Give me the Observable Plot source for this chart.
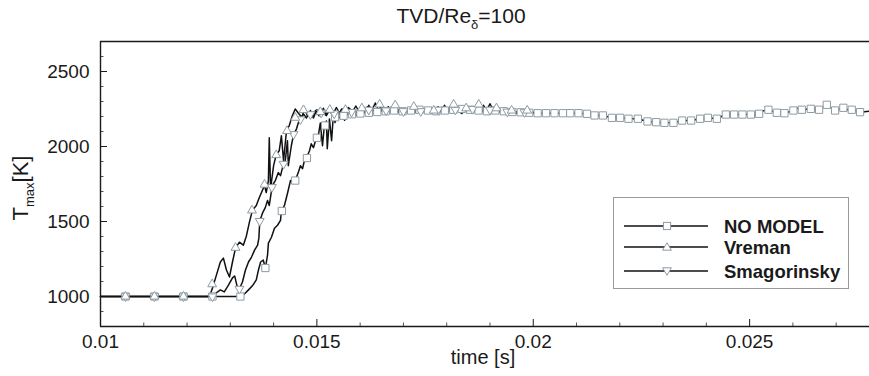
<!DOCTYPE html>
<html>
<head>
<meta charset="utf-8">
<script src="https://cdn.jsdelivr.net/npm/d3@7"></script>
<script src="https://cdn.jsdelivr.net/npm/@observablehq/plot@0.6"></script>
<style>
  html, body { margin: 0; padding: 0; background: #fff; }
  #wrap { position: relative; width: 869px; height: 376px; font-family: "Liberation Sans", Arial, sans-serif; color: #1a1a1a; }
  .ov { position: absolute; white-space: nowrap; }
</style>
</head>
<body>
<div id="wrap"></div>
<script>
// ---------- data ----------
const seriesNames = ["NO MODEL", "Vreman", "Smagorinsky"];
const xTicks = [0.01, 0.015, 0.02, 0.025];
const xTickLabels = ["0.01", "0.015", "0.02", "0.025"];
const yTicks = [1000, 1500, 2000, 2500];
const yTickLabels = ["1000", "1500", "2000", "2500"];

// NO MODEL line
const nmT = [0.0100,0.01323,0.01333,0.01342,0.01351,0.01360,0.01365,0.01370,0.01376,0.01381,0.01386,0.01388,0.01395,0.01402,0.01409,0.01416,0.01418,0.01425,0.01432,0.01439,0.01446,0.01450,0.01457,0.01462,0.01467,0.01471,0.01476,0.01483,0.01487,0.01492,0.01499,0.01504,0.01508,0.01513,0.01517,0.01522,0.01524,0.01529,0.01534,0.01538,
  0.01542,0.01546,0.01552,0.01558,0.01564,0.01570,0.01577,0.01584,0.01591,0.01598,0.01606,0.01614,0.01622,0.01630,0.01640,0.01650,0.01660,0.01670,0.01680,
  0.016981,0.017176,0.017371,0.017566,0.017761,0.017956,0.018151,0.018346,0.018541,0.018736,0.018931,0.019126,0.019321,0.019516,0.019711,0.019906,0.020101,0.020296,0.020491,
  0.020686,0.020855,0.021046,0.021240,0.021416,0.021610,0.021818,0.022009,0.022201,0.022418,0.022640,0.022841,0.023032,0.023240,0.023441,0.023649,0.023857,0.024035,0.024242,0.024450,0.024642,0.024834,0.025028,0.025219,0.02530,0.025434,0.025628,0.025804,0.026012,0.02610,0.026206,0.026413,0.026605,0.02670,0.026783,0.026975,0.027166,0.02730,0.027360,0.027552,0.02777];
const nmV = [1000,1000,1018,1044,1071,1111,1177,1230,1243,1190,1276,1356,1395,1455,1475,1508,1568,1607,1687,1773,1760,1773,1826,1872,1852,1905,1925,1972,2018,1992,2058,2084,2157,2005,2131,2170,1985,2184,2038,2204,
  2160,2210,2190,2220,2175,2225,2200,2235,2205,2240,2215,2245,2220,2240,2225,2240,2230,2245,2235,
  2235,2240,2245,2240,2235,2240,2245,2250,2245,2240,2235,2240,2235,2230,2228,2225,2222,2222,2222,
  2222,2222,2222,2218,2207,2207,2191,2191,2185,2185,2167,2162,2158,2158,2173,2173,2185,2191,2185,2213,2213,2213,2213,2218,2236,2245,2225,2222,2240,2256,2245,2251,2245,2262,2278,2240,2258,2240,2245,2229,2235];

// Vreman line
const vrT = [0.0100,0.01252,0.01259,0.01268,0.01277,0.01284,0.01291,0.01298,0.01305,0.01312,0.01321,0.01330,0.01337,0.01344,0.01351,0.01360,0.01367,0.01374,0.01379,0.01383,0.01388,0.01390,0.01393,0.01400,0.01406,0.01413,0.01418,0.01423,0.01430,0.01436,0.01443,0.01450,
  0.01457,0.01465,0.01472,0.01478,0.01485,0.01492,0.01500,0.01507,0.01515,0.01522,0.01530,0.01537,0.01545,0.01552,0.01560,0.01567,0.01575,0.01582,0.01590,0.01597,0.01605,0.01612,0.01620,0.01627,0.01635,0.01642,0.01650,0.01657,0.01665,0.01672,0.01680,0.01690,0.01700,0.01710,0.01720,0.01730,0.01740,0.01750,0.01760,0.01770,0.01780,0.01787,0.01795,0.01802,0.01810,0.01817,0.01825,0.01832,0.01840,0.01847,0.01855,0.01862,0.01870,0.01877,0.01885,0.01892,0.01900,0.01907,0.01915,0.01922,0.01930,0.01940,0.01950,0.01960,0.01970,0.01980,0.01990,0.02000];
const vrV = [1000,1000,1058,1144,1230,1256,1177,1130,1230,1323,1362,1342,1402,1494,1574,1607,1660,1707,1740,1693,1773,2058,1720,1872,1945,1972,2071,1905,2111,2138,2203,2250,
  2223,2195,2250,2205,2240,2190,2245,2215,2255,2205,2245,2215,2260,2225,2250,2210,2255,2230,2270,2235,2260,2225,2275,2240,2290,2245,2270,2230,2265,2235,2255,2225,2245,2230,2240,2225,2240,2230,2250,2235,2265,2230,2275,2240,2270,2230,2260,2225,2255,2235,2265,2230,2255,2235,2275,2240,2285,2245,2265,2230,2255,2225,2240,2220,2235,2225,2230,2228];

// Smagorinsky line
const smT = [0.0100,0.01259,0.01268,0.01277,0.01286,0.01296,0.01305,0.01310,0.01316,0.01321,0.01328,0.01335,0.01342,0.01349,0.01356,0.01363,0.01366,0.01368,0.01374,0.01381,0.01386,0.01390,0.01397,0.01404,0.01411,0.01416,0.01423,0.01427,0.01432,0.01434,0.01441,0.01446,0.01453,0.01457,0.01462,0.01469,
  0.01476,0.01483,0.01490,0.01497,0.01505,0.01512,0.01520,0.01527,0.01535,0.01542,0.01550,0.01557,0.01565,0.01572,0.01580,0.01587,0.01595,0.01602,0.01610,0.01617,0.01625,0.01632,0.01640,0.01647,0.01655,0.01665,0.01675,0.01685,0.01695,0.01705,0.01715,0.01725,0.01735,0.01745,0.01755,0.01765,0.01775,0.01782,0.01790,0.01797,0.01805,0.01812,0.01820,0.01827,0.01835,0.01842,0.01850,0.01857,0.01865,0.01872,0.01880,0.01887,0.01895,0.01902,0.01910,0.01920,0.01930,0.01940,0.01950,0.01960,0.01970,0.01980,0.01990,0.02000];
const smV = [1000,1000,1025,1044,1031,1077,1124,1137,1064,1051,1097,1177,1230,1263,1309,1342,1389,1502,1554,1594,1640,1607,1740,1773,1826,1806,1886,1905,2038,1872,2005,2078,2118,2157,2184,2217,
  2190,2230,2200,2240,2205,2245,2210,2250,2215,2240,2205,2250,2220,2260,2225,2245,2215,2260,2230,2265,2235,2250,2220,2255,2240,2250,2230,2245,2235,2240,2225,2235,2230,2245,2235,2250,2240,2255,2225,2260,2235,2265,2240,2255,2220,2250,2230,2265,2240,2250,2225,2260,2235,2255,2230,2245,2225,2235,2220,2232,2225,2230,2222,2226];

// marker positions
const nmMkT = [0.010577,0.011247,0.011917,0.012587,0.013233,0.01381,0.01419,0.01450,0.01477,0.01500,0.01519,
  0.015421,0.015616,0.015811,0.016006,0.016201,0.016396,0.016591,0.016786,0.016981,0.017176,0.017371,0.017566,0.017761,0.017956,0.018151,0.018346,0.018541,0.018736,0.018931,0.019126,0.019321,0.019516,0.019711,0.019906,0.020101,0.020296,0.020491,
  0.020686,0.020855,0.021046,0.021240,0.021416,0.021610,0.021818,0.022009,0.022201,0.022418,0.022640,0.022841,0.023032,0.023240,0.023441,0.023649,0.023857,0.024035,0.024242,0.024450,0.024642,0.024834,0.025028,0.025219,0.025434,0.025628,0.025804,0.026012,0.026206,0.026413,0.026605,0.026783,0.026975,0.027166,0.027360,0.027552];
const nmMkV = [1000,1000,1000,1000,1000,1190,1570,1773,1923,2058,2140,
  2195,2205,2215,2220,2225,2230,2235,2240,2235,2240,2245,2240,2235,2240,2245,2250,2245,2240,2235,2240,2235,2230,2228,2225,2222,2222,2222,
  2222,2222,2222,2218,2207,2207,2191,2191,2185,2185,2167,2162,2158,2158,2173,2173,2185,2191,2185,2213,2213,2213,2213,2218,2245,2225,2222,2240,2245,2251,2245,2278,2240,2258,2245,2229];
const vrMkT = [0.010577,0.011247,0.011917,0.01258,0.01312,0.01350,0.01379,0.01406,0.01431,0.01450,0.01469,0.01508,0.01530,0.01566,0.01604,0.01645,0.01681,0.01724,0.01770,0.01816,0.01845,0.01874,0.01915,0.01950,0.01986];
const vrMkV = [1000,1000,1000,1082,1325,1574,1746,1943,2104,2192,2243,2230,2245,2245,2255,2280,2275,2265,2240,2280,2255,2280,2255,2240,2240];
const smMkT = [0.010577,0.011247,0.011917,0.012587,0.01321,0.01368,0.01396,0.01423,0.01446,0.01462,0.01485,0.01510,0.01540,0.01580,0.01620,0.01660,0.01700,0.01740,0.01780,0.01820,0.01860,0.01900,0.01940,0.01980];
const smMkV = [1000,1000,1000,1000,1051,1503,1729,1884,2082,2181,2215,2225,2220,2230,2245,2240,2235,2235,2245,2245,2250,2245,2232,2228];

// ---------- build ----------
const toRows = (T, V) => T.map((t, i) => ({t, v: V[i]}));
const nmLine = toRows(nmT, nmV), vrLine = toRows(vrT, vrV), smLine = toRows(smT, smV);
const nmMk = toRows(nmMkT, nmMkV), vrMk = toRows(vrMkT, vrMkV), smMk = toRows(smMkT, smMkV);

const triUp = { draw(ctx, size) { const s = Math.sqrt(size / 0.433); const h = s * 0.866;
  ctx.moveTo(0, -h * 2 / 3); ctx.lineTo(s / 2, h / 3); ctx.lineTo(-s / 2, h / 3); ctx.closePath(); } };
const triDown = { draw(ctx, size) { const s = Math.sqrt(size / 0.433); const h = s * 0.866;
  ctx.moveTo(0, h * 2 / 3); ctx.lineTo(s / 2, -h / 3); ctx.lineTo(-s / 2, -h / 3); ctx.closePath(); } };

const W = 869, H = 376, mL = 100, mR = 0, mT = 41, mB = 50;
const plotW = W - mL - mR, plotH = H - mT - mB;
const xMinor = d3.range(11, 28).map(d => d / 1000).filter(d => !xTicks.some(k => Math.abs(k - d) < 1e-9));
const yMinor = d3.range(900, 2700, 100).filter(d => d % 500 !== 0);
const mkStroke = "#8e9ba3";
const lineW = 1.5;

const chart = Plot.plot({
  width: W, height: H,
  marginLeft: mL, marginRight: mR, marginTop: mT, marginBottom: mB,
  style: { fontFamily: '"Liberation Sans", Arial, sans-serif', fontSize: "19px", color: "#1a1a1a", background: "white", overflow: "visible" },
  x: { domain: [0.01, 0.02777], ticks: xTicks, tickFormat: d => xTickLabels[xTicks.indexOf(d)], tickSize: 0, tickPadding: 8, label: null },
  y: { domain: [800, 2700], ticks: yTicks, tickFormat: d => yTickLabels[yTicks.indexOf(d)], tickSize: 0, tickPadding: 11, label: null },
  marks: [
    // major & minor ticks (pointing inward)
    Plot.tickX(xTicks, { x: d => d, stroke: "#1a1a1a", insetTop: plotH - 7 }),
    Plot.tickX(xMinor, { x: d => d, stroke: "#555", insetTop: plotH - 3.5 }),
    Plot.tickY(yTicks, { y: d => d, stroke: "#1a1a1a", insetRight: plotW - 7 }),
    Plot.tickY(yMinor, { y: d => d, stroke: "#555", insetRight: plotW - 3.5 }),
    // lines
    Plot.line(nmLine, { x: "t", y: "v", stroke: "#111", strokeWidth: lineW }),
    Plot.line(smLine, { x: "t", y: "v", stroke: "#111", strokeWidth: lineW }),
    Plot.line(vrLine, { x: "t", y: "v", stroke: "#111", strokeWidth: lineW }),
    // markers
    Plot.dot(nmMk, { x: "t", y: "v", symbol: "square", r: 4.1, fill: "white", stroke: mkStroke, strokeWidth: 1 }),
    Plot.dot(smMk, { x: "t", y: "v", symbol: triDown, r: 3.3, fill: "white", stroke: mkStroke, strokeWidth: 1 }),
    Plot.dot(vrMk, { x: "t", y: "v", symbol: triUp, r: 3.3, fill: "white", stroke: mkStroke, strokeWidth: 1 }),
    // frame (left, bottom, top)
    Plot.ruleY([800, 2700], { stroke: "#1a1a1a", strokeWidth: 1.4 }),
    Plot.ruleX([0.01], { stroke: "#1a1a1a", strokeWidth: 1.4 })
  ]
});

const wrap = document.getElementById("wrap");
wrap.appendChild(chart);

// title
const title = document.createElement("div");
title.className = "ov";
title.style.cssText = "left:0;width:922px;top:4px;text-align:center;font-size:21px;";
title.innerHTML = 'TVD/Re<sub style="font-size:13px;vertical-align:-6px;line-height:0">δ</sub>=100';
wrap.appendChild(title);

// x label
const xl = document.createElement("div");
xl.className = "ov";
xl.style.cssText = "left:0;width:966px;top:346px;text-align:center;font-size:20px;";
xl.textContent = "time [s]";
wrap.appendChild(xl);

// y label
const yl = document.createElement("div");
yl.className = "ov";
yl.style.cssText = "left:21px;top:188px;font-size:22px;transform:translate(-50%,-50%) rotate(-90deg);";
yl.innerHTML = 'T<sub style="font-size:13px;vertical-align:-6px;line-height:0">max</sub>[K]';
wrap.appendChild(yl);

// legend
const leg = document.createElement("div");
leg.className = "ov";
leg.style.cssText = "left:613px;top:197px;width:234px;height:90px;border:1px solid #9a9a9a;background:#fff;";
const symPaths = {
  "NO MODEL": '<rect x="-3.6" y="-3.6" width="7.2" height="7.2" />',
  "Vreman": '<path d="M0,-4.3L4.4,3.2L-4.4,3.2Z" />',
  "Smagorinsky": '<path d="M0,4.3L4.4,-3.2L-4.4,-3.2Z" />'
};
const rowsY = [28, 49, 73];
let html = '<svg width="234" height="90" style="position:absolute;left:0;top:0">';
seriesNames.forEach((name, i) => {
  const y = rowsY[i];
  html += `<line x1="10" x2="94" y1="${y}" y2="${y}" stroke="#111" stroke-width="${lineW}"/>`;
  html += `<g transform="translate(53,${y})" fill="white" stroke="${mkStroke}">${symPaths[name]}</g>`;
  html += `<text x="110" y="${y + 6.5}" font-size="18.5" font-weight="bold" fill="#1a1a1a" font-family="Liberation Sans, Arial, sans-serif">${name}</text>`;
});
html += '</svg>';
leg.innerHTML = html;
wrap.appendChild(leg);
</script>
</body>
</html>
